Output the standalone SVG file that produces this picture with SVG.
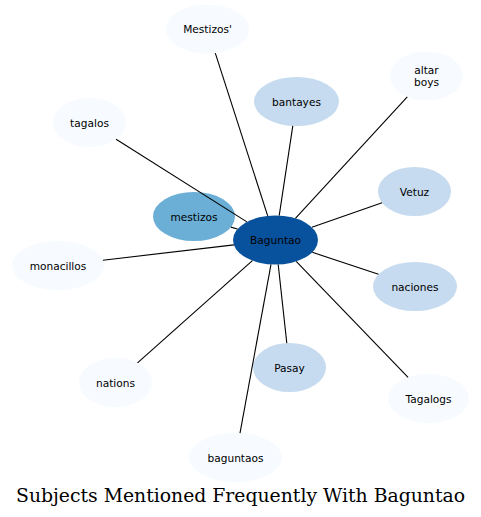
<svg xmlns="http://www.w3.org/2000/svg" width="481" height="517" viewBox="0 0 481 517">
<style>
.e{stroke:#000;stroke-width:1.1;fill:none}
.n text{font-family:"DejaVu Sans",sans-serif;font-size:10.6px;text-anchor:middle;fill:#000}
.l0{fill:#f7fbff}.l1{fill:#c6dbef}.l2{fill:#6baed6}.l3{fill:#08519c}
.title{font-family:"DejaVu Serif",serif;font-size:18px;fill:#000}
</style>
<rect width="481" height="517" fill="#fff"/>
<g id="nodes">
<g id="n-mestizos-q" class="n"><ellipse class="l0" cx="207.5" cy="29" rx="41.5" ry="24.5"/><text x="207.5" y="33">Mestizos'</text></g>
<g id="n-altarboys" class="n"><ellipse class="l0" cx="426.5" cy="76" rx="36.5" ry="24.5"/><text x="426.5" y="74">altar</text><text x="426.5" y="86">boys</text></g>
<g id="n-bantayes" class="n"><ellipse class="l1" cx="296.5" cy="101.5" rx="42.5" ry="24.5"/><text x="296.5" y="105.5">bantayes</text></g>
<g id="n-tagalos" class="n"><ellipse class="l0" cx="89.5" cy="122.5" rx="36.5" ry="24.5"/><text x="89.5" y="126.5">tagalos</text></g>
<g id="n-vetuz" class="n"><ellipse class="l1" cx="414.5" cy="191.5" rx="36.5" ry="24.5"/><text x="414.5" y="195.5">Vetuz</text></g>
<g id="n-mestizos" class="n"><ellipse class="l2" cx="194" cy="216.5" rx="41" ry="24.5"/><text x="194" y="220.5">mestizos</text></g>
<g id="n-monacillos" class="n"><ellipse class="l0" cx="58" cy="265.5" rx="46" ry="24.5"/><text x="58" y="269.5">monacillos</text></g>
<g id="n-naciones" class="n"><ellipse class="l1" cx="415" cy="286.5" rx="42" ry="24.5"/><text x="415" y="290.5">naciones</text></g>
<g id="n-pasay" class="n"><ellipse class="l1" cx="289.5" cy="367.5" rx="36.5" ry="24.5"/><text x="289.5" y="371.5">Pasay</text></g>
<g id="n-nations" class="n"><ellipse class="l0" cx="115.5" cy="382.5" rx="36.5" ry="24.5"/><text x="115.5" y="386.5">nations</text></g>
<g id="n-tagalogs" class="n"><ellipse class="l0" cx="428.5" cy="398.5" rx="40.5" ry="24.5"/><text x="428.5" y="402.5">Tagalogs</text></g>
<g id="n-baguntaos" class="n"><ellipse class="l0" cx="235.5" cy="457.5" rx="46.5" ry="24.5"/><text x="235.5" y="461.5">baguntaos</text></g>
<g id="n-baguntao" class="n"><ellipse class="l3" cx="275.5" cy="240" rx="42.5" ry="24.5"/><text x="275.5" y="244">Baguntao</text></g>
</g>
<g id="edges">
<line class="e" x1="267.7" y1="215.9" x2="215.3" y2="53.1"/>
<line class="e" x1="279.2" y1="215.6" x2="292.8" y2="125.9"/>
<line class="e" x1="295.4" y1="218.4" x2="407.3" y2="96.8"/>
<line class="e" x1="246.9" y1="221.9" x2="116.1" y2="139.3"/>
<line class="e" x1="237.5" y1="229" x2="230.9" y2="227.1"/>
<line class="e" x1="311.9" y1="227.3" x2="382.1" y2="202.8"/>
<line class="e" x1="233.9" y1="244.9" x2="102.9" y2="260.2"/>
<line class="e" x1="312.3" y1="252.3" x2="378.5" y2="274.3"/>
<line class="e" x1="252.4" y1="260.6" x2="137.5" y2="362.9"/>
<line class="e" x1="278.2" y1="264.5" x2="286.8" y2="343.1"/>
<line class="e" x1="271" y1="264.4" x2="240" y2="433.1"/>
<line class="e" x1="296.2" y1="261.4" x2="408.1" y2="377.3"/>
</g>
<text class="title" x="16" y="501.5" textLength="449" lengthAdjust="spacingAndGlyphs">Subjects Mentioned Frequently With Baguntao</text>
</svg>
